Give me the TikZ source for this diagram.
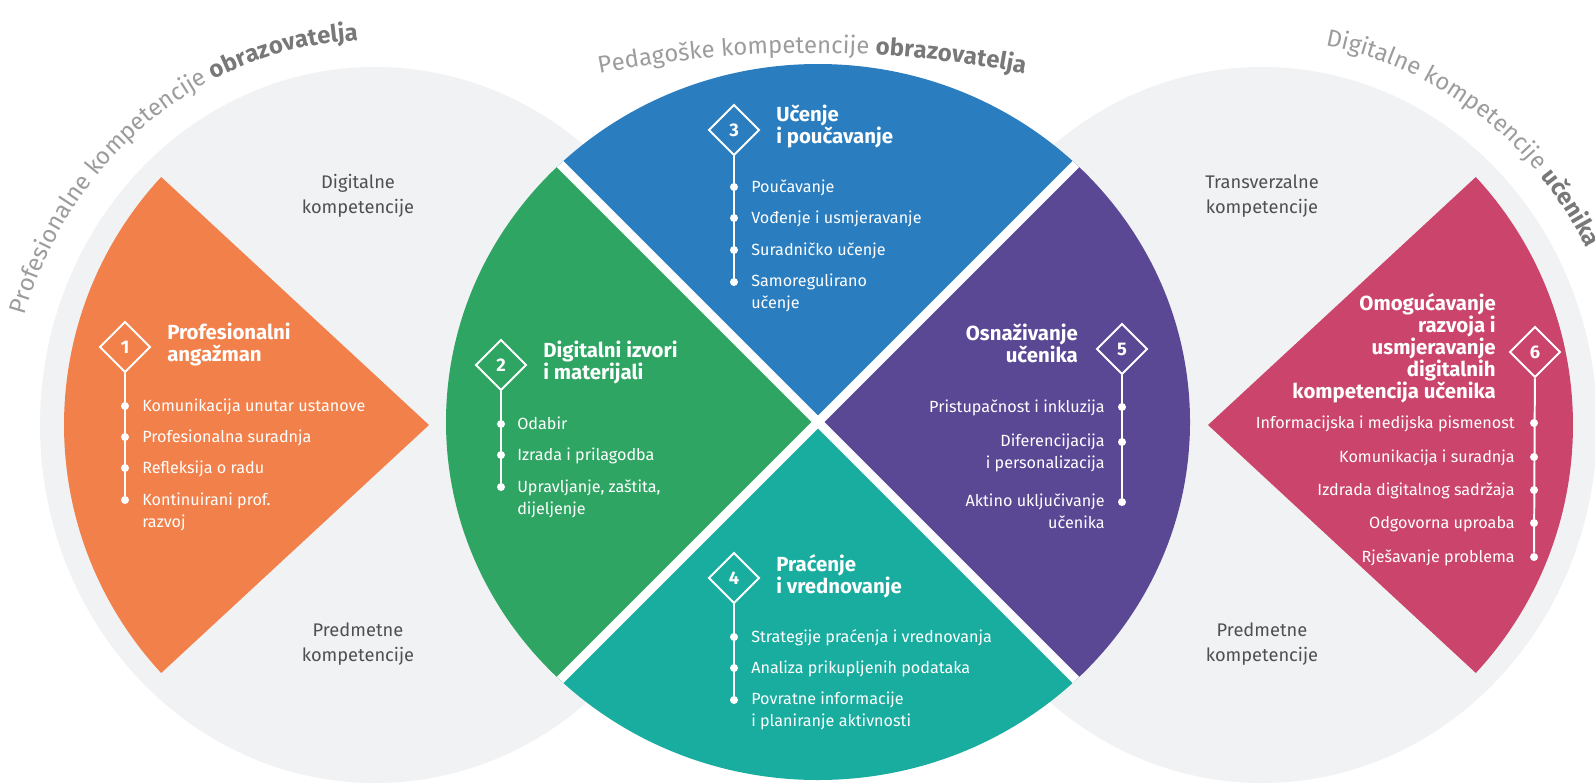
\documentclass[tikz,border=0pt]{standalone}
\usepackage{fontspec}
\setmainfont{Fira Sans}
\usetikzlibrary{shapes.geometric,decorations.text}

\definecolor{orng}{HTML}{F2804A}
\definecolor{grn}{HTML}{2FA563}
\definecolor{blu}{HTML}{2A7EC0}
\definecolor{prp}{HTML}{5B4895}
\definecolor{tel}{HTML}{19ADA0}
\definecolor{mag}{HTML}{CB446C}
\definecolor{bggrey}{HTML}{F1F2F4}
\definecolor{lblgrey}{HTML}{505050}
\definecolor{arcgrey}{HTML}{9C9C9C}
\definecolor{arcbold}{HTML}{787878}

\tikzset{
  numbox/.style={diamond, draw=white, line width=1.4pt, minimum size=1.27cm,
    inner sep=0pt, text=white, font=\bfseries\fontsize{13}{13}\selectfont},
  stem/.style={draw=white, line width=1.4pt},
  dot/.style={circle, fill=white, minimum size=0.2cm, inner sep=0pt},
  head/.style={text=white, inner sep=0pt, font=\bfseries\fontsize{14.5}{15.5}\selectfont},
  item/.style={text=white, inner sep=0pt, font=\fontsize{11.5}{15}\selectfont},
  side/.style={text=lblgrey, inner sep=0pt, align=center, font=\fontsize{13}{18}\selectfont},
  gapline/.style={white, line width=0.225cm},
}

\begin{document}
\begin{tikzpicture}[x=0.025cm, y=0.025cm]
  \useasboundingbox (0,0) rectangle (1595,-783);

  \coordinate (ctr) at (818,-422);   % central circle
  \coordinate (apL) at (429,-425);   % tip of orange
  \coordinate (apR) at (1208,-425);  % tip of magenta

  % grey circles
  \fill[bggrey] (375,-425) ellipse [x radius=335, y radius=358];
  \fill[bggrey] (1262,-425) ellipse [x radius=335, y radius=358];

  % central circle, four quarters
  \begin{scope}
    \clip (ctr) ellipse [x radius=372, y radius=358];
    \fill[blu] (ctr) -- +(-500,500) -- +(500,500) -- cycle;
    \fill[grn] (ctr) -- +(-500,500) -- +(-500,-500) -- cycle;
    \fill[tel] (ctr) -- +(-500,-500) -- +(500,-500) -- cycle;
    \fill[prp] (ctr) -- +(500,-500) -- +(500,500) -- cycle;
    \draw[gapline] (ctr) +(-420,420) -- +(420,-420);
    \draw[gapline] (ctr) +(420,420) -- +(-420,-420);
  \end{scope}

  % side wedges
  \fill[orng] (apL) -- +(137.2:365) arc[start angle=137.2, end angle=222.8, radius=365] -- cycle;
  \fill[mag]  (apR) -- +(-42.8:365) arc[start angle=-42.8, end angle=42.8, radius=365] -- cycle;

  % labels on the arcs
  \path[decorate, decoration={text along path, text align=center,
      text={|\fontsize{17}{17}\selectfont\color{arcgrey}|Profesionalne kompetencije |\fontsize{17}{17}\selectfont\bfseries\color{arcbold}|obrazovatelja}}]
    (375,-425) ++(168:365 and 385) arc[start angle=168, end angle=88, x radius=365, y radius=385];
  \path[decorate, decoration={text along path, text align=center,
      text={|\fontsize{17}{17}\selectfont\color{arcgrey}|Pedagoške kompetencije |\fontsize{17}{17}\selectfont\bfseries\color{arcbold}|obrazovatelja}}]
    (812,-1155) ++(101:1102) arc[start angle=101, end angle=79, radius=1102];
  \path[decorate, decoration={text along path, text align=left,
      text={|\fontsize{17}{17}\selectfont\color{arcgrey}|Digitalne kompetencije |\fontsize{17}{17}\selectfont\bfseries\color{arcbold}|učenika}}]
    (1262,-425) ++(80:365 and 385) arc[start angle=80, end angle=5, x radius=365, y radius=385];

  % grey circle texts
  \node[side] (dk)  at (358,-196)  {Digitalne\\kompetencije};
  \node[side] (pk1) at (358,-644)  {Predmetne\\kompetencije};
  \node[side] (tk)  at (1262,-196) {Transverzalne\\kompetencije};
  \node[side] (pk2) at (1262,-644) {Predmetne\\kompetencije};

  % 1 orange
  \node[numbox] (d1) at (125,-347) {1};
  \node[head, align=left, anchor=base west] (t1) at (167,-361) {Profesionalni\\angažman};
  \node[dot] (p11) at (125,-406) {};
  \node[dot] (p12) at (125,-437) {};
  \node[dot] (p13) at (125,-468) {};
  \node[dot] (p14) at (125,-500) {};
  \draw[stem] (d1) -- (p14);
  \node[item, anchor=base west] (i11) at (142,-411) {Komunikacija unutar ustanove};
  \node[item, anchor=base west] (i12) at (142,-442) {Profesionalna suradnja};
  \node[item, anchor=base west] (i13) at (142,-473) {Refleksija o radu};
  \node[item, align=left, anchor=base west] (i14) at (142,-527) {Kontinuirani prof.\\razvoj};

  % 2 green
  \node[numbox] (d2) at (501,-365) {2};
  \node[head, align=left, anchor=base west] (t2) at (543,-379) {Digitalni izvori\\i materijali};
  \node[dot] (p21) at (501,-424) {};
  \node[dot] (p22) at (501,-455) {};
  \node[dot] (p23) at (501,-487) {};
  \draw[stem] (d2) -- (p23);
  \node[item, anchor=base west] (i21) at (517,-429) {Odabir};
  \node[item, anchor=base west] (i22) at (517,-460) {Izrada i prilagodba};
  \node[item, align=left, anchor=base west] (i23) at (517,-514) {Upravljanje, zaštita,\\dijeljenje};

  % 3 blue
  \node[numbox] (d3) at (734,-130) {3};
  \node[head, align=left, anchor=base west] (t3) at (776,-143) {Učenje\\i poučavanje};
  \node[dot] (p31) at (734,-187) {};
  \node[dot] (p32) at (734,-218) {};
  \node[dot] (p33) at (734,-250) {};
  \node[dot] (p34) at (734,-282) {};
  \draw[stem] (d3) -- (p34);
  \node[item, anchor=base west] (i31) at (751,-192) {Poučavanje};
  \node[item, anchor=base west] (i32) at (751,-223) {Vođenje i usmjeravanje};
  \node[item, anchor=base west] (i33) at (751,-255) {Suradničko učenje};
  \node[item, align=left, anchor=base west] (i34) at (751,-308) {Samoregulirano\\učenje};

  % 4 teal
  \node[numbox] (d4) at (734,-578) {4};
  \node[head, align=left, anchor=base west] (t4) at (776,-593) {Praćenje\\i vrednovanje};
  \node[dot] (p41) at (734,-637) {};
  \node[dot] (p42) at (734,-668) {};
  \node[dot] (p43) at (734,-700) {};
  \draw[stem] (d4) -- (p43);
  \node[item, anchor=base west] (i41) at (751,-642) {Strategije praćenja i vrednovanja};
  \node[item, anchor=base west] (i42) at (751,-673) {Analiza prikupljenih podataka};
  \node[item, align=left, anchor=base west] (i43) at (751,-726) {Povratne informacije\\i planiranje aktivnosti};

  % 5 purple
  \node[numbox] (d5) at (1122,-349) {5};
  \node[head, align=right, anchor=base east] (t5) at (1078,-362) {Osnaživanje\\učenika};
  \node[dot] (p51) at (1122,-407) {};
  \node[dot] (p52) at (1122,-442) {};
  \node[dot] (p53) at (1122,-502) {};
  \draw[stem] (d5) -- (p53);
  \node[item, anchor=base east] (i51) at (1105,-412) {Pristupačnost i inkluzija};
  \node[item, align=right, anchor=base east] (i52) at (1105,-468) {Diferencijacija\\i personalizacija};
  \node[item, align=right, anchor=base east] (i53) at (1105,-528) {Aktino uključivanje\\učenika};

  % 6 magenta
  \node[numbox] (d6) at (1535,-352) {6};
  \node[head, align=right, anchor=base east] (t6) at (1496,-398)
    {Omogućavanje\\razvoja i\\usmjeravanje\\digitalnih\\kompetencija učenika};
  \node[dot] (p61) at (1534,-423) {};
  \node[dot] (p62) at (1534,-457) {};
  \node[dot] (p63) at (1534,-490) {};
  \node[dot] (p64) at (1534,-523) {};
  \node[dot] (p65) at (1534,-557) {};
  \draw[stem] (d6) -- (p65);
  \node[item, anchor=base east] (i61) at (1515,-428) {Informacijska i medijska pismenost};
  \node[item, anchor=base east] (i62) at (1515,-462) {Komunikacija i suradnja};
  \node[item, anchor=base east] (i63) at (1515,-495) {Izdrada digitalnog sadržaja};
  \node[item, anchor=base east] (i64) at (1515,-528) {Odgovorna uproaba};
  \node[item, anchor=base east] (i65) at (1515,-562) {Rješavanje problema};
\end{tikzpicture}
\end{document}
